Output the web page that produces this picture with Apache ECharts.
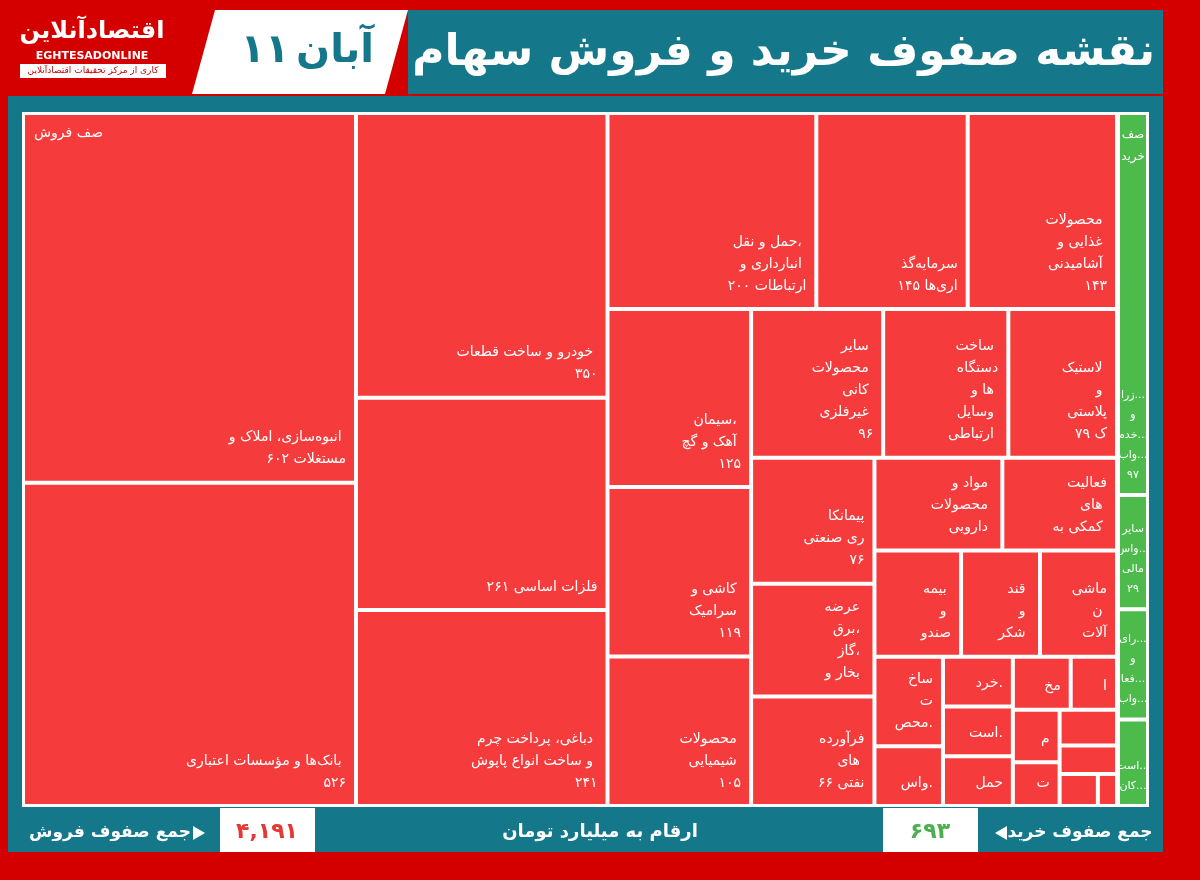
<!DOCTYPE html>
<html>
<head>
<meta charset="utf-8">
<script src="https://cdn.jsdelivr.net/npm/echarts@6/dist/echarts.min.js"></script>
<style>
  html, body { margin: 0; padding: 0; background: #d40000; }
  #chart { width: 1200px; height: 880px; }
</style>
</head>
<body>
<div id="chart"></div>
<script>
var sellNames = [
  'انبوه‌سازی، املاک و مستغلات', 'بانک‌ها و مؤسسات اعتباری', 'خودرو و ساخت قطعات', 'فلزات اساسی',
  'دباغی، پرداخت چرم و ساخت انواع پاپوش', 'حمل و نقل، انبارداری و ارتباطات', 'سرمایه‌گذاری‌ها',
  'محصولات غذایی و آشامیدنی', 'سیمان، آهک و گچ', 'کاشی و سرامیک', 'محصولات شیمیایی',
  'سایر محصولات کانی غیرفلزی', 'ساخت دستگاه‌ها و وسایل ارتباطی', 'لاستیک و پلاستیک',
  'پیمانکاری صنعتی', 'عرضه برق، گاز، بخار و آب گرم', 'فرآورده‌های نفتی', 'مواد و محصولات دارویی',
  'فعالیت‌های کمکی به نهادهای مالی', 'بیمه و صندوق بازنشستگی', 'قند و شکر', 'ماشین آلات و دستگاه‌ها',
  'ساخت محصولات فلزی', 'واسطه‌گری‌های مالی', 'مخابرات', 'حمل و نقل آبی', 'استخراج کانه‌ها',
  'خرده‌فروشی', 'ماشین آلات برقی', 'منسوجات', 'تجهیزات', 'استخراج زغال', 'محصولات کاغذی', 'هتل و رستوران', 'سایر'
];
var sellValues = [602, 526, 350, 261, 241, 200, 145, 143, 125, 119, 105, 96, 91, 79, 76, 68, 66, 58,
  52, 45, 41, 40, 30, 20, 15, 17, 17, 17, 12, 10, 10, 12, 8, 6, 3];
var buyNames = ['زراعت و خدمات وابسته', 'سایر واسطه‌گری‌های مالی', 'رایانه و فعالیت‌های وابسته', 'استخراج کانه‌های فلزی'];
var buyValues = [97, 29, 28, 22];
var totalSell = '۴,۱۹۱';
var totalBuy = '۶۹۳';

function fa(n) {
  return String(n).replace(/\d/g, function (d) { return '۰۱۲۳۴۵۶۷۸۹'[d]; });
}
function build(names, values, color) {
  return names.map(function (n, i) { return { name: n, value: values[i], itemStyle: { color: color } }; });
}
// short label for narrow cells: each word cut to a few letters
function shortLabel(name, value, keep, words) {
  var w = name.split(' ').slice(0, words).map(function (s) { return s.length > keep ? s.slice(0, keep - 1) + '...' : s; });
  return w.join('\n') + (value === '' ? '' : '\n' + fa(value));
}
var FONT = 'DejaVu Sans';
var baseSeries = {
  type: 'treemap',
  roam: false,
  nodeClick: false,
  breadcrumb: { show: false },
  squareRatio: 1,
  label: {
    show: true,
    position: 'insideBottomRight',
    align: 'right',
    color: '#fff',
    fontFamily: FONT,
    fontSize: 14,
    lineHeight: 22,
    padding: [6, 8, 10, 8],
    overflow: 'break'
  },
  itemStyle: { borderColor: '#fff', borderWidth: 1, gapWidth: 2 }
};

var chart = echarts.init(document.getElementById('chart'));
chart.setOption({
  backgroundColor: '#d40000',
  graphic: [
    { type: 'rect', shape: { x: 8, y: 96, width: 1155, height: 756 }, style: { fill: '#14788a' } },
    { type: 'rect', shape: { x: 408, y: 10, width: 755, height: 84 }, style: { fill: '#14788a' } },
    { type: 'polygon', shape: { points: [[215, 10], [408, 10], [385, 94], [192, 94]] }, style: { fill: '#fff' } },
    { type: 'rect', shape: { x: 22, y: 112, width: 1127, height: 695 }, style: { fill: '#fff' } },
    { type: 'text', x: 1155, y: 54, style: { text: 'نقشه صفوف خرید و فروش سهام', fill: '#fff', font: 'bold 44px ' + FONT, align: 'right', verticalAlign: 'middle' } },
    { type: 'text', x: 265, y: 52, style: { text: '۱۱', fill: '#14788a', font: 'bold 40px ' + FONT, align: 'center', verticalAlign: 'middle' } },
    { type: 'text', x: 335, y: 52, style: { text: 'آبان', fill: '#14788a', font: 'bold 40px ' + FONT, align: 'center', verticalAlign: 'middle' } },
    { type: 'text', x: 92, y: 32, style: { text: 'اقتصادآنلاین', fill: '#fff', font: 'bold 24px ' + FONT, align: 'center', verticalAlign: 'middle' } },
    { type: 'text', x: 92, y: 56, style: { text: 'EGHTESADONLINE', fill: '#fff', font: 'bold 11px ' + FONT, align: 'center', verticalAlign: 'middle' } },
    { type: 'rect', shape: { x: 20, y: 64, width: 146, height: 14 }, style: { fill: '#fff' } },
    { type: 'text', x: 93, y: 71, style: { text: 'کاری از مرکز تحقیقات اقتصادآنلاین', fill: '#c00', font: '9px ' + FONT, align: 'center', verticalAlign: 'middle' } },
    { type: 'text', x: 110, y: 833, style: { text: 'جمع صفوف فروش', fill: '#fff', font: 'bold 17px ' + FONT, align: 'center', verticalAlign: 'middle' } },
    { type: 'polygon', shape: { points: [[193, 826], [205, 833], [193, 840]] }, style: { fill: '#fff' } },
    { type: 'rect', shape: { x: 220, y: 808, width: 95, height: 44 }, style: { fill: '#fff' } },
    { type: 'text', x: 267, y: 832, style: { text: totalSell, fill: '#e53935', font: 'bold 22px ' + FONT, align: 'center', verticalAlign: 'middle' } },
    { type: 'text', x: 600, y: 832, style: { text: 'ارقام به میلیارد تومان', fill: '#fff', font: 'bold 18px ' + FONT, align: 'center', verticalAlign: 'middle' } },
    { type: 'rect', shape: { x: 883, y: 808, width: 95, height: 44 }, style: { fill: '#fff' } },
    { type: 'text', x: 930, y: 832, style: { text: totalBuy, fill: '#4caf50', font: 'bold 22px ' + FONT, align: 'center', verticalAlign: 'middle' } },
    { type: 'polygon', shape: { points: [[995, 833], [1007, 826], [1007, 840]] }, style: { fill: '#fff' } },
    { type: 'text', x: 1080, y: 833, style: { text: 'جمع صفوف خرید', fill: '#fff', font: 'bold 17px ' + FONT, align: 'center', verticalAlign: 'middle' } },
    { type: 'text', z: 100, x: 34, y: 126, style: { text: 'صف فروش', fill: '#fff', font: '14px ' + FONT, align: 'left' } },
    { type: 'text', z: 100, x: 1133, y: 124, style: { text: 'صف\nخرید', fill: '#fff', font: '12px ' + FONT, align: 'center', lineHeight: 22 } }
  ],
  series: [
    echarts.util.merge({
      left: 23, top: 113, width: 1094, height: 693,
      label: {
        formatter: function (p) {
          var r = p.data.value;
          if (r >= 35) return p.name + ' ' + fa(r);
          return shortLabel(p.name, r === 15 ? r : '', 4, r >= 25 ? 3 : r >= 15 ? 2 : 1);
        }
      },
      data: build(sellNames, sellValues, '#f53b3b')
    }, baseSeries, false),
    echarts.util.merge({
      left: 1118, top: 113, width: 30, height: 693,
      label: {
        position: 'insideBottom', align: 'center', padding: [4, 0, 8, 0], fontSize: 11, lineHeight: 20,
        overflow: 'none',
        formatter: function (p) { return shortLabel(p.name, p.value < 25 ? '' : p.value, 4, p.value < 25 ? 2 : 4); }
      },
      data: build(buyNames, buyValues, '#4cbb4c')
    }, baseSeries, false)
  ]
});
</script>
</body>
</html>
